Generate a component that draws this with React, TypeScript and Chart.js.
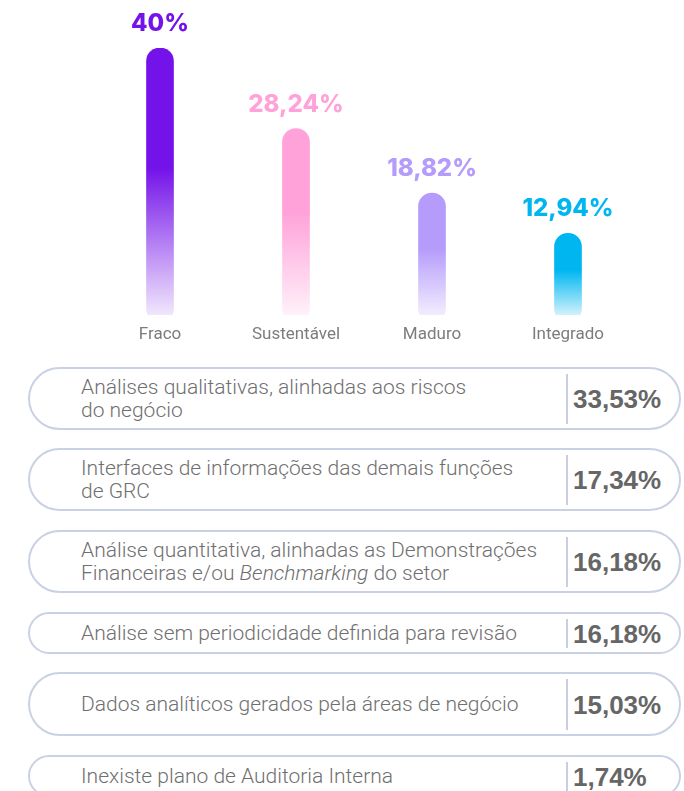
import React, { useEffect, useRef } from "react";
import { Chart, registerables } from "chart.js";

Chart.register(...registerables);

// ---- data ----
const categories = ["Fraco", "Sustentável", "Maduro", "Integrado"];
const maturityValues = [40, 28.24, 18.82, 12.94];
const barColors = ["#7413E9", "#FFA2D9", "#B59BFB", "#00B6F1"];
const barFadeColors = [
  "rgba(116,19,233,0.10)",
  "rgba(255,162,217,0.15)",
  "rgba(181,155,251,0.18)",
  "rgba(0,182,241,0.18)",
];

const sourceLabels = [
  "Análises qualitativas, alinhadas aos riscos\ndo negócio",
  "Interfaces de informações das demais funções\nde GRC",
  "Análise quantitativa, alinhadas as Demonstrações\nFinanceiras e/ou _Benchmarking_ do setor",
  "Análise sem periodicidade definida para revisão",
  "Dados analíticos gerados pela áreas de negócio",
  "Inexiste plano de Auditoria Interna",
];
const sourceValues = [33.53, 17.34, 16.18, 16.18, 15.03, 1.74];

const fmtPct = (v: number) => String(v).replace(".", ",") + "%";

// ---- layout (not data) ----
const rowTops = [367, 448, 530, 612, 672, 755];
const rowHeights = [63, 63, 63, 42, 64, 42];

function renderLabel(label: string) {
  const lines = label.split("\n");
  return lines.map((line, li) => {
    const parts = line.split("_");
    return (
      <div key={li}>
        {parts.map((p, pi) =>
          pi % 2 === 1 ? (
            <i key={pi}>{p}</i>
          ) : (
            <span key={pi}>{p}</span>
          )
        )}
      </div>
    );
  });
}

const valueLabelPlugin = {
  id: "valueLabels",
  afterDatasetsDraw(chart: any) {
    const meta = chart.getDatasetMeta(0);
    const ctx = chart.ctx;
    ctx.save();
    ctx.font = "800 24px Inter";
    ctx.textAlign = "center";
    ctx.textBaseline = "alphabetic";
    meta.data.forEach((bar: any, i: number) => {
      ctx.fillStyle = barColors[i];
      ctx.fillText(fmtPct(maturityValues[i]), bar.x, bar.y - 17);
    });
    ctx.restore();
  },
};

export default function App() {
  const canvasRef = useRef<HTMLCanvasElement | null>(null);

  useEffect(() => {
    if (!canvasRef.current) return;
    const chart = new Chart(canvasRef.current, {
      type: "bar",
      data: {
        labels: categories,
        datasets: [
          {
            data: maturityValues,
            backgroundColor: (c: any) => {
              const i = c.dataIndex ?? 0;
              const chart = c.chart;
              const ys = chart.scales && chart.scales.y;
              if (!chart.chartArea || !ys || c.raw == null) return barColors[i];
              const top = ys.getPixelForValue(c.raw);
              const bottom = ys.getPixelForValue(ys.min);
              const g = chart.ctx.createLinearGradient(0, top, 0, bottom);
              g.addColorStop(0, barColors[i]);
              g.addColorStop(0.45, barColors[i]);
              g.addColorStop(1, barFadeColors[i]);
              return g;
            },
            barThickness: 27,
            borderRadius: 14,
            borderSkipped: false,
          },
        ],
      },
      options: {
        animation: false,
        responsive: false,
        maintainAspectRatio: false,
        layout: { padding: { left: 92, right: 48, top: 48, bottom: 0 } },
        plugins: { legend: { display: false }, tooltip: { enabled: false } },
        scales: {
          x: {
            grid: { display: false, drawTicks: false },
            border: { display: false },
            ticks: {
              color: "#7c7c7c",
              font: { family: "Roboto", size: 17, weight: "400" },
              padding: 10,
            },
            afterFit: (s: any) => {
              s.height = 35;
            },
          },
          y: { display: false, min: 1, max: 40 },
        },
      },
      plugins: [valueLabelPlugin],
    } as any);
    return () => chart.destroy();
  }, []);

  return (
    <div
      style={{
        position: "fixed",
        left: 0,
        top: 0,
        width: 684,
        height: 791,
        overflow: "hidden",
        background: "#ffffff",
      }}
    >
      <canvas
        ref={canvasRef}
        width={684}
        height={350}
        style={{ position: "absolute", left: 0, top: 0, width: 684, height: 350 }}
      />
      {sourceLabels.map((label, i) => (
        <div
          key={i}
          style={{
            position: "absolute",
            left: 28,
            top: rowTops[i],
            width: 653,
            height: rowHeights[i],
            boxSizing: "border-box",
            border: "2px solid #CAD1E4",
            borderRadius: 34,
            display: "flex",
            alignItems: "center",
            paddingLeft: 51,
          }}
        >
          <div
            style={{
              fontFamily: "Roboto",
              fontWeight: 300,
              fontSize: 21,
              lineHeight: "23px",
              color: "#6f6f6f",
              whiteSpace: "nowrap",
            }}
          >
            {renderLabel(label)}
          </div>
          <div
            style={{
              position: "absolute",
              left: 536,
              top: 5,
              bottom: 4,
              width: 2,
              background: "#C8CFE2",
            }}
          />
          <div
            style={{
              position: "absolute",
              left: 543,
              top: 0,
              bottom: 0,
              display: "flex",
              alignItems: "center",
              fontFamily: "'Liberation Sans', Arial, sans-serif",
              fontWeight: 700,
              fontSize: 26,
              color: "#666666",
              paddingTop: 2,
            }}
          >
            {fmtPct(sourceValues[i])}
          </div>
        </div>
      ))}
    </div>
  );
}
